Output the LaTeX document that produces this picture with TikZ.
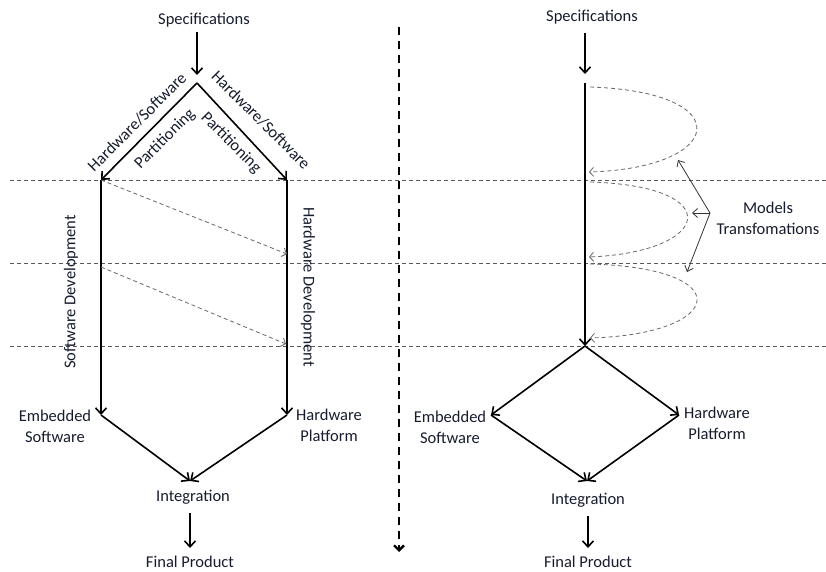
\documentclass[tikz,border=0pt]{standalone}
\usepackage{fontspec}
\setmainfont{Carlito}
\usetikzlibrary{arrows.meta}
\usetikzlibrary{positioning}
\usetikzlibrary{calc}
\definecolor{ink}{RGB}{22,28,45}
\tikzstyle{txt}=[font=\fontsize{16.5}{21}\selectfont, text=ink, inner sep=1pt]
\tikzstyle{flow}=[-{Straight Barb[length=6pt,width=11pt]}, line width=1.6pt]
\tikzstyle{stage}=[black!65, line width=0.8pt, dash pattern=on 4pt off 3pt]
\tikzstyle{model}=[black!60, line width=0.8pt, dash pattern=on 4pt off 3pt, -{Straight Barb[length=4pt,width=9pt]}]
\tikzstyle{pointer}=[black!80, line width=0.8pt, -{Straight Barb[length=5pt,width=9pt]}]
\tikzstyle{divider}=[line width=2.4pt, dash pattern=on 8pt off 6pt, -{Straight Barb[length=5pt,width=10pt]}]

\begin{document}
\begin{tikzpicture}[x=1pt, y=-1pt]

  \useasboundingbox (0,0) rectangle (826,572);

  % stage borders
  \foreach \y in {180, 263, 346}
    \draw[stage] (10,\y) -- (826,\y);

  % middle divider
  \coordinate (topM) at (399,27);
  \coordinate (botM) at (399,552);
  \draw[divider] (topM) -- (botM);

  % left: classic co-design
  \foreach \x/\y/\name in {197/83/apexL, 101/180/swL, 287/180/hwL, 101/415/embL, 287/415/platL, 190/481/intL, 287/254/hwA, 101/267/swB, 286/344/hwB}
    \coordinate (\name) at (\x,\y);

  \node[txt] (specL) at (204,20) {Specifications};
  \node[txt] (integL) at (193,497) {Integration};
  \node[txt] (finalL) at (190,562) {Final Product};
  \node[txt, align=center] (embTxtL) at (55,426) {Embedded\\Software};
  \node[txt, align=center] (platTxtL) at (329,425) {Hardware\\Platform};

  \node[txt, rotate=45] (partOutL) at (137,122) {Hardware/Software};
  \node[txt, rotate=45] (partInL) at (165,139) {Partitioning};
  \node[txt, rotate=-45] (partOutR) at (261,120) {Hardware/Software};
  \node[txt, rotate=-45] (partInR) at (231,143) {Partitioning};
  \node[txt, rotate=90] (swDev) at (71,292) {Software Development};
  \node[txt, rotate=-90] (hwDev) at (308,287) {Hardware Development};

  \draw[flow, shorten <=4pt] (specL.south -| apexL) -- ($(apexL)+(0,-8)$);
  \foreach \source/\dest in {apexL/swL, apexL/hwL, swL/embL, hwL/platL, embL/intL, platL/intL}
    \draw[flow] (\source) -- (\dest);
  \draw[flow, shorten <=8pt, shorten >=7pt] (integL.south -| finalL) -- (finalL.north);

  \draw[model] (swL) -- (hwA);
  \draw[model] (swB) -- (hwB);

  % right: model driven flow
  \foreach \x/\y/\name in {585/83/topR, 585/346/baseR, 491/415/embR, 679/415/platR, 587/481/intR, 710/213/hub, 678/160/ptA, 692/213/ptB, 687/272/ptC}
    \coordinate (\name) at (\x,\y);

  \node[txt] (specR) at (592,17) {Specifications};
  \node[txt] (integR) at (588,500) {Integration};
  \node[txt] (finalR) at (588,562) {Final Product};
  \node[txt, align=center] (embTxtR) at (450,427) {Embedded\\Software};
  \node[txt, align=center] (platTxtR) at (717,423) {Hardware\\Platform};
  \node[txt, align=center] (mtTxt) at (768,218) {Models\\Transfomations};

  \draw[flow, shorten <=8pt] (specR.south -| topR) -- ($(topR)+(0,-9)$);
  \draw[flow] (topR) -- (baseR);
  \foreach \source/\dest in {baseR/embR, baseR/platR, embR/intR, platR/intR}
    \draw[flow] (\source) -- (\dest);
  \draw[flow, shorten <=8pt, shorten >=7pt] (integR) -- (finalR);

  \coordinate (loopA1) at (590,87);  \coordinate (loopA2) at (589,172);
  \coordinate (loopB1) at (590,182); \coordinate (loopB2) at (589,257);
  \coordinate (loopC1) at (590,264); \coordinate (loopC2) at (590,338);
  \draw[model] (loopA1) .. controls (740,92) and (725,168) .. (loopA2);
  \draw[model] (loopB1) .. controls (728,186) and (712,252) .. (loopB2);
  \draw[model] (loopC1) .. controls (740,268) and (725,334) .. (loopC2);

  \foreach \dest in {ptA, ptB, ptC}
    \draw[pointer] (hub) -- (\dest);

\end{tikzpicture}
\end{document}
